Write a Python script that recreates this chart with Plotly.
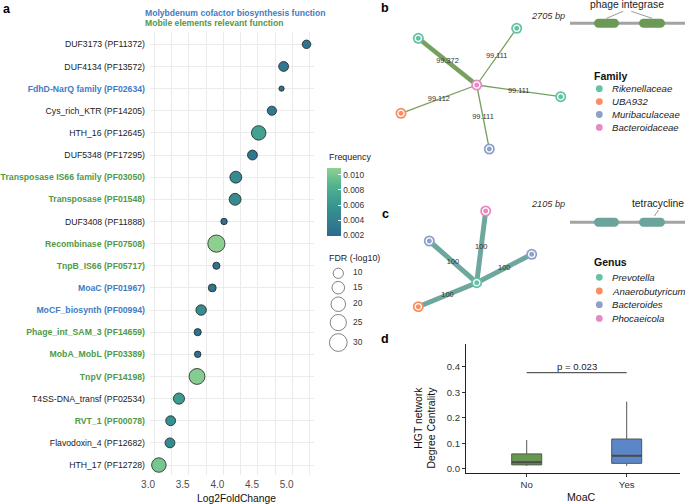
import plotly.graph_objects as go
import numpy as np

W, H = 685, 504
FONT = "Liberation Sans"


def px(x):
    return x / W


def py(y):
    return 1 - y / H


# ---------------- Panel a data ----------------
domains = ["DUF3173 (PF11372)", "DUF4134 (PF13572)", "FdhD-NarQ family (PF02634)",
           "Cys_rich_KTR (PF14205)", "HTH_16 (PF12645)", "DUF5348 (PF17295)",
           "Transposase IS66 family (PF03050)", "Transposase (PF01548)",
           "DUF3408 (PF11888)", "Recombinase (PF07508)", "TnpB_IS66 (PF05717)",
           "MoaC (PF01967)", "MoCF_biosynth (PF00994)", "Phage_int_SAM_3 (PF14659)",
           "MobA_MobL (PF03389)", "TnpV (PF14198)", "T4SS-DNA_transf (PF02534)",
           "RVT_1 (PF00078)", "Flavodoxin_4 (PF12682)", "HTH_17 (PF12728)"]
log2fc = [5.20, 4.87, 4.84, 4.70, 4.51, 4.42, 4.18, 4.17, 4.01, 3.90,
          3.90, 3.84, 3.68, 3.63, 3.63, 3.62, 3.36, 3.24, 3.23, 3.07]
fdr_log10 = [6.9, 9.3, 2.6, 8.1, 20.0, 9.3, 13.5, 13.5, 4.0, 28.2,
             4.9, 5.9, 10.5, 4.9, 4.0, 24.1, 11.9, 9.3, 9.3, 20.0]
frequency = [0.0028, 0.0032, 0.0025, 0.0033, 0.0070, 0.0030, 0.0050, 0.0050, 0.0025, 0.0108,
             0.0028, 0.0030, 0.0052, 0.0028, 0.0025, 0.0105, 0.0065, 0.0055, 0.0050, 0.0100]
function_group = ["other", "other", "mo", "other", "other", "other", "mobile", "mobile",
                  "other", "mobile", "mobile", "mo", "mo", "mobile", "mobile", "mobile",
                  "other", "mobile", "other", "other"]
freq_ticks = [0.002, 0.004, 0.006, 0.008, 0.010]
fdr_legend = [10, 15, 20, 25, 30]

# ---------------- Panel b data ----------------
family_order = ["Rikenellaceae", "UBA932", "Muribaculaceae", "Bacteroidaceae"]
b_node_family = ["Bacteroidaceae", "Rikenellaceae", "Rikenellaceae", "Rikenellaceae",
                 "UBA932", "Muribaculaceae"]
b_node_x = [0.0, -5.84, 4.0, 8.4, -7.57, 1.26]
b_node_y = [0.0, 4.67, 5.67, -1.17, -2.83, -6.4]
b_edge_source = [0, 0, 0, 0, 0]
b_edge_target = [1, 2, 3, 4, 5]
b_edge_identity = [99.372, 99.111, 99.111, 99.112, 99.111]
b_contig_bp = 2705
b_gene_start = [565, 1623]
b_gene_end = [1153, 2235]
b_gene_label = "phage integrase"

# ---------------- Panel c data ----------------
genus_order = ["Prevotella", "Anaerobutyricum", "Bacteroides", "Phocaeicola"]
c_node_genus = ["Prevotella", "Phocaeicola", "Bacteroides", "Bacteroides", "Anaerobutyricum"]
c_node_x = [0.0, 0.9, -4.74, 5.5, -5.84]
c_node_y = [0.0, 7.17, 4.17, 2.84, -2.4]
c_edge_source = [0, 0, 0, 0]
c_edge_target = [1, 2, 3, 4]
c_edge_identity = [100, 100, 100, 100]
c_contig_bp = 2105
c_gene_start = [439, 1263]
c_gene_end = [897, 1739]
c_gene_label = "tetracycline"

# ---------------- Panel d data ----------------
moac_groups = ["No", "Yes"]
box_q1 = [0.016, 0.022]
box_median = [0.026, 0.052]
box_q3 = [0.059, 0.117]
box_lower = [0.012, 0.012]
box_upper = [0.113, 0.263]
p_label = "p = 0.023"

# ---------------- styles ----------------
set2 = ["#66c2a5", "#fc8d62", "#8da0cb", "#e78ac3"]
family_color = dict(zip(family_order, set2))
genus_color = dict(zip(genus_order, set2))
mo_color = "#3f7cc4"
mobile_color = "#4f9a48"
group_color = {"other": "#1a1a1a", "mo": mo_color, "mobile": mobile_color}
freq_scale = [[0, "#2c6a8e"], [0.45, "#389590"], [0.75, "#52b48f"], [1, "#8fd190"]]
SIZEREF = 2 / 10.5
b_edge_col = "#76a15d"
b_gene_col = "#6b9a56"
c_edge_col = "#6da79d"
c_gene_col = "#6aa49a"
box_fill = ["#66994f", "#5b87c9"]

fig = go.Figure()


def tick_html(name, grp):
    if grp == "other":
        return name
    return "<span style='color:%s'><b>%s</b></span>" % (group_color[grp], name)


idx = list(range(len(domains)))

# Panel a bubbles
fig.add_trace(go.Scatter(
    x=log2fc, y=idx, mode="markers", xaxis="x", yaxis="y",
    marker=dict(size=fdr_log10, sizemode="area", sizeref=SIZEREF,
                color=frequency, colorscale=freq_scale, cmin=0.0019, cmax=0.0109,
                line=dict(color="#222222", width=0.8), opacity=1,
                showscale=True,
                colorbar=dict(x=px(327), xanchor="left", y=py(168), yanchor="top",
                              len=68, lenmode="pixels", thickness=14, xpad=0, ypad=0,
                              outlinewidth=0, tickvals=freq_ticks,
                              ticktext=["%.3f" % v for v in freq_ticks],
                              ticks="inside", ticklen=3, tickcolor="white",
                              tickfont=dict(size=8.4, color="#333333"))),
    showlegend=False, hoverinfo="skip", cliponaxis=False))

# size legend
leg_d = [np.sqrt(2 * v / SIZEREF) for v in fdr_legend]
leg_y = [273.3]
for i in range(1, len(fdr_legend)):
    leg_y.append(leg_y[-1] + (leg_d[i - 1] + leg_d[i]) / 2 + 3)
fig.add_trace(go.Scatter(
    x=[338.3] * len(fdr_legend), y=leg_y, mode="markers", xaxis="x5", yaxis="y5",
    marker=dict(size=fdr_legend, sizemode="area", sizeref=SIZEREF, color="white",
                line=dict(color="#222222", width=0.8)),
    showlegend=False, hoverinfo="skip", cliponaxis=False))
fig.add_trace(go.Scatter(
    x=[353] * len(fdr_legend), y=leg_y, mode="text", xaxis="x5", yaxis="y5",
    text=[str(v) for v in fdr_legend], textposition="middle right",
    textfont=dict(size=8.4, color="#333333"),
    showlegend=False, hoverinfo="skip", cliponaxis=False))


# network helper
def draw_network(nx, ny, src, tgt, ident, colors, xa, ya, widths, ecol, fmt):
    for s, t, w in zip(src, tgt, widths):
        fig.add_trace(go.Scatter(x=[nx[s], nx[t]], y=[ny[s], ny[t]], mode="lines",
                                 line=dict(color=ecol, width=w), xaxis=xa, yaxis=ya,
                                 showlegend=False, hoverinfo="skip"))
    mx = [(nx[s] + nx[t]) / 2 for s, t in zip(src, tgt)]
    my = [(ny[s] + ny[t]) / 2 for s, t in zip(src, tgt)]
    fig.add_trace(go.Scatter(x=mx, y=my, mode="text", text=[fmt(v) for v in ident],
                             textfont=dict(size=7.4, color="#333333"), xaxis=xa, yaxis=ya,
                             showlegend=False, hoverinfo="skip"))
    fig.add_trace(go.Scatter(x=nx, y=ny, mode="markers", xaxis=xa, yaxis=ya,
                             marker=dict(size=11, color=colors, line=dict(width=0)),
                             showlegend=False, hoverinfo="skip", cliponaxis=False))
    fig.add_trace(go.Scatter(x=nx, y=ny, mode="markers", xaxis=xa, yaxis=ya,
                             marker=dict(size=6.2, symbol="circle-open", color="white",
                                         line=dict(width=1.3, color="white")),
                             showlegend=False, hoverinfo="skip", cliponaxis=False))


idn = np.array(b_edge_identity)
b_widths = 1.3 + (idn - idn.min()) / (idn.max() - idn.min()) * 3.2
draw_network(b_node_x, b_node_y, b_edge_source, b_edge_target, b_edge_identity,
             [family_color[f] for f in b_node_family], "x2", "y2", b_widths, b_edge_col,
             lambda v: "%.3f" % v)
draw_network(c_node_x, c_node_y, c_edge_source, c_edge_target, c_edge_identity,
             [genus_color[g] for g in c_node_genus], "x3", "y3", [5] * len(c_edge_source),
             c_edge_col, lambda v: "%g" % v)

# gene diagrams
shapes = []
annotations = []


def ann(**kw):
    kw.setdefault("xanchor", "center")
    kw.setdefault("yanchor", "middle")
    kw.setdefault("showarrow", False)
    annotations.append(kw)


def pill(s, e, h, r):
    k = 0.5523
    return ("M %f,%f L %f,%f C %f,%f %f,%f %f,%f C %f,%f %f,%f %f,%f L %f,%f "
            "C %f,%f %f,%f %f,%f C %f,%f %f,%f %f,%f Z" % (
                s + r, h, e - r, h,
                e - r + k * r, h, e, k * h, e, 0,
                e, -k * h, e - r + k * r, -h, e - r, -h,
                s + r, -h,
                s + r - k * r, -h, s, -k * h, s, 0,
                s, k * h, s + r - k * r, h, s + r, h))


def gene_track(length, starts, ends, col, xa, ya):
    fig.add_trace(go.Scatter(x=[0, length], y=[0, 0], mode="lines", xaxis=xa, yaxis=ya,
                             line=dict(color="#a3a3a3", width=3),
                             showlegend=False, hoverinfo="skip", cliponaxis=False))
    bp_per_px = length / 115.0
    for s, e in zip(starts, ends):
        shapes.append(dict(type="path", path=pill(s, e, 0.45, 4.5 * bp_per_px),
                           xref=xa, yref=ya, fillcolor=col, line=dict(width=0),
                           layer="above"))


gene_track(b_contig_bp, b_gene_start, b_gene_end, b_gene_col, "x6", "y6")
gene_track(c_contig_bp, c_gene_start, c_gene_end, c_gene_col, "x7", "y7")

# b gene label with two leaders
b_centers = [(s + e) / 2 for s, e in zip(b_gene_start, b_gene_end)]
b_mid = sum(b_centers) / 2
b_bpx = b_contig_bp / 115.0
for cx, sgn in zip(b_centers, [-1, 1]):
    shapes.append(dict(type="line", xref="x6", yref="y6", x0=b_mid + sgn * 4 * b_bpx - 2 * b_bpx,
                       y0=1.2, x1=cx, y1=0.5, line=dict(color="#808080", width=0.8)))
ann(x=b_mid - 2 * b_bpx, y=1.93, xref="x6", yref="y6", text=b_gene_label,
    font=dict(size=10.3, color="#222222"))
ann(x=0, y=0.73, xref="x6", yref="y6", text="<i>%d bp</i>" % b_contig_bp,
    xanchor="right", xshift=-3, font=dict(size=9.2, color="#333333"))
# c gene label
c_center = (c_gene_start[1] + c_gene_end[1]) / 2
c_bpx = c_contig_bp / 115.0
shapes.append(dict(type="line", xref="x7", yref="y7", x0=c_center + 6.5 * c_bpx, y0=1.23,
                   x1=c_center + 2.5 * c_bpx, y1=0.63, line=dict(color="#808080", width=0.8)))
ann(x=c_center + 5.5 * c_bpx, y=1.93, xref="x7", yref="y7", text=c_gene_label,
    font=dict(size=10.3, color="#222222"))
ann(x=0, y=1.83, xref="x7", yref="y7", text="<i>%d bp</i>" % c_contig_bp,
    xanchor="right", xshift=-3, font=dict(size=9.2, color="#333333"))


# legends for b and c
def cat_legend(title, names, cmap, ytitle, y0, dy):
    ann(x=px(591.5), y=py(ytitle), xref="paper", yref="paper", text="<b>%s</b>" % title,
        xanchor="left", font=dict(size=10.5, color="#111111"))
    for i, n in enumerate(names):
        yy = y0 + i * dy
        shapes.append(dict(type="circle", xref="paper", yref="paper", xsizemode="pixel",
                           ysizemode="pixel", xanchor=px(599.3), yanchor=py(yy),
                           x0=-3.4, x1=3.4, y0=-3.4, y1=3.4, fillcolor=cmap[n],
                           line=dict(width=0)))
        ann(x=px(609.5), y=py(yy), xref="paper", yref="paper", text="<i>%s</i>" % n,
            xanchor="left", font=dict(size=9.6, color="#222222"))


cat_legend("Family", family_order, family_color, 76, 88.7, 12.9)
cat_legend("Genus", genus_order, genus_color, 261.7, 277.3, 13.7)

# Panel d boxes
for i, g in enumerate(moac_groups):
    fig.add_trace(go.Box(x=[g], q1=[box_q1[i]], median=[box_median[i]], q3=[box_q3[i]],
                         lowerfence=[box_lower[i]], upperfence=[box_upper[i]],
                         fillcolor=box_fill[i], line=dict(color="#555555", width=1),
                         width=0.3, whiskerwidth=0, boxpoints=False,
                         xaxis="x4", yaxis="y4", showlegend=False, hoverinfo="skip"))
    shapes.append(dict(type="line", xref="x4", yref="y4", x0=i - 0.15, x1=i + 0.15,
                       y0=box_median[i], y1=box_median[i],
                       line=dict(color="#4a4a4a", width=2)))
shapes.append(dict(type="line", xref="x4", yref="y4", x0=0, x1=1, y0=0.376, y1=0.376,
                   line=dict(color="#333333", width=1)))
ann(x=0.5, y=0.40, xref="x4", yref="y4", text=p_label, font=dict(size=9.6, color="#222222"))

# Titles / text
ann(x=px(143.3), y=py(13.3), xref="paper", yref="paper", xanchor="left",
    text="<b>Molybdenum cofactor biosynthesis function</b>",
    font=dict(size=8.6, color=mo_color))
ann(x=px(143.3), y=py(23.3), xref="paper", yref="paper", xanchor="left",
    text="<b>Mobile elements relevant function</b>",
    font=dict(size=8.6, color=mobile_color))
ann(x=px(236), y=py(498), xref="paper", yref="paper", text="Log2FoldChange",
    font=dict(size=10.3, color="#111111"))
ann(x=px(327), y=py(157), xref="paper", yref="paper", xanchor="left",
    text="Frequency", font=dict(size=8.9, color="#222222"))
ann(x=px(327), y=py(258.3), xref="paper", yref="paper", xanchor="left",
    text="FDR (-log10)", font=dict(size=8.9, color="#222222"))
ann(x=px(425), y=py(427.5), xref="paper", yref="paper",
    text="HGT network<br>Degree Centrality", textangle=-90, align="right",
    font=dict(size=10.4, color="#111111"))
ann(x=px(581), y=py(496.7), xref="paper", yref="paper", text="MoaC",
    font=dict(size=10.6, color="#111111"))
for lab, lx, ly in [("a", 6.7, 9.3), ("b", 385.5, 8.3), ("c", 385, 214), ("d", 385, 339.3)]:
    ann(x=px(lx), y=py(ly), xref="paper", yref="paper", text="<b>%s</b>" % lab,
        font=dict(size=12.5, color="#000000"))

hidden = dict(visible=False, showgrid=False, zeroline=False, automargin=False)

fig.update_layout(
    template="none",
    width=W, height=H, margin=dict(l=0, r=0, t=0, b=0, pad=0, autoexpand=False),
    autosize=False,
    paper_bgcolor="white", plot_bgcolor="white", showlegend=False,
    font=dict(family=FONT, color="#222222"), boxmode="overlay",
    xaxis=dict(domain=[px(150), px(314)], range=[2.942, 5.308], tickmode="linear",
               tick0=3.0, dtick=0.5, tickformat=".1f", showgrid=True, gridcolor="#ebebeb",
               gridwidth=1, minor=dict(dtick=0.25, showgrid=True, gridcolor="#ebebeb",
                                       gridwidth=0.8),
               zeroline=False, showline=False, ticks="", anchor="y", automargin=False,
               ticklabelstandoff=2, ticklabelshift=-6,
               tickfont=dict(size=10, color="#4d4d4d")),
    yaxis=dict(domain=[py(475), py(31.7)], range=[19.45, -0.57], tickmode="array",
               tickvals=idx, ticktext=[tick_html(n, g) for n, g in zip(domains, function_group)],
               showgrid=True, gridcolor="#ebebeb", gridwidth=1, zeroline=False,
               showline=False, ticks="", anchor="x", ticklabelstandoff=4, automargin=False,
               tickfont=dict(size=8.7, color="#1a1a1a")),
    xaxis2=dict(domain=[px(380), px(580)], range=[-9.67, 10.33], anchor="y2", **hidden),
    yaxis2=dict(domain=[py(180), py(10)], range=[-9.5, 7.5], anchor="x2", **hidden),
    xaxis3=dict(domain=[px(380), px(580)], range=[-9.67, 10.33], anchor="y3", **hidden),
    yaxis3=dict(domain=[py(330), py(195)], range=[-4.73, 8.77], anchor="x3", **hidden),
    xaxis4=dict(domain=[px(466), px(680)], range=[-0.607, 1.533], anchor="y4",
                type="category", categoryorder="array", categoryarray=moac_groups,
                showline=True, linecolor="#222222", linewidth=0.9, ticks="outside",
                ticklen=3, tickcolor="#333333", showgrid=False, zeroline=False,
                automargin=False, tickfont=dict(size=9.6, color="#333333")),
    yaxis4=dict(domain=[py(472.7), py(344)], range=[-0.0145, 0.488], anchor="x4",
                tickvals=[0, 0.1, 0.2, 0.3, 0.4], tickformat=".1f",
                showline=True, linecolor="#222222", linewidth=0.9, ticks="outside",
                ticklen=3, tickcolor="#333333", showgrid=False, zeroline=False,
                automargin=False, tickfont=dict(size=9.6, color="#333333")),
    xaxis5=dict(domain=[px(320), px(380)], range=[320, 380], anchor="y5", **hidden),
    yaxis5=dict(domain=[py(360), py(264)], range=[360, 264], anchor="x5", **hidden),
    xaxis6=dict(domain=[px(570), px(685)], range=[0, b_contig_bp], anchor="y6", **hidden),
    yaxis6=dict(domain=[py(40), py(0)], range=[-1.67, 2.33], anchor="x6", **hidden),
    xaxis7=dict(domain=[px(570), px(685)], range=[0, c_contig_bp], anchor="y7", **hidden),
    yaxis7=dict(domain=[py(228), py(188)], range=[-0.57, 3.43], anchor="x7", **hidden),
    shapes=shapes, annotations=annotations,
)

fig.write_html("out.html", config={"displayModeBar": False},
               post_script="document.body.style.margin='0px';"
                           "document.body.style.overflow='hidden';")
